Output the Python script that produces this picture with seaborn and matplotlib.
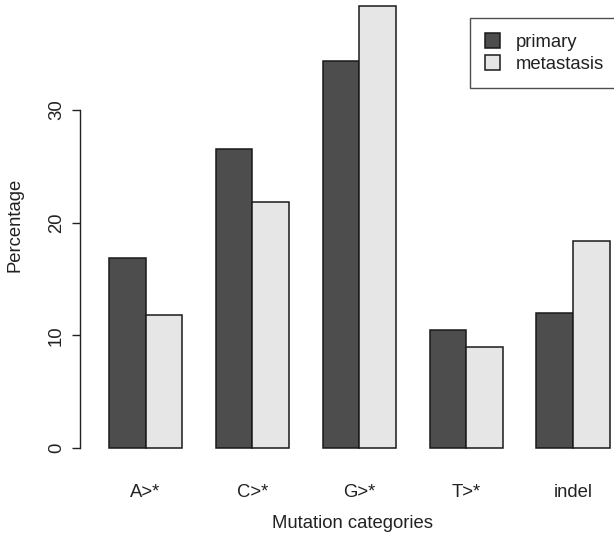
import matplotlib
matplotlib.use("Agg")
import matplotlib.pyplot as plt
import seaborn as sns
import pandas as pd
from matplotlib.patches import Patch

categories = ["A>*", "C>*", "G>*", "T>*", "indel"]
primary = [16.9, 26.5, 34.3, 10.5, 12.0]
metastasis = [11.8, 21.8, 39.2, 9.0, 18.4]
series = ["primary", "metastasis"]
colors = ["#4d4d4d", "#e6e6e6"]
yticks = [0, 10, 20, 30]

df = pd.DataFrame({
    "category": categories * 2,
    "pct": primary + metastasis,
    "type": [series[0]] * len(categories) + [series[1]] * len(categories),
})

sns.set_style("white")
plt.rcParams["font.family"] = ["Liberation Sans", "DejaVu Sans"]
FS = 13.3

W, H = 614, 542
fig = plt.figure(figsize=(W / 100, H / 100), dpi=100)
left_px, right_px, top_px, bottom_px = 80, 614, 0, 466
ax = fig.add_axes([left_px / W, 1 - bottom_px / H, (right_px - left_px) / W, (bottom_px - top_px) / H])

sns.barplot(data=df, x="category", y="pct", hue="type", hue_order=series,
            order=categories, palette=colors, saturation=1, width=0.685,
            edgecolor="#1a1a1a", linewidth=1.1, ax=ax, legend=False)

x0_px, period = 145.5, 106.9
ax.set_xlim((left_px - x0_px) / period, (right_px - x0_px) / period)
y0_px, unit = 448, 11.27
ax.set_ylim((y0_px - bottom_px) / unit, (y0_px - top_px) / unit)

for s in ["top", "right", "bottom"]:
    ax.spines[s].set_visible(False)
ax.spines["left"].set_bounds(0, 30)
ax.spines["left"].set_color("#222222")
ax.spines["left"].set_linewidth(1.0)

ax.set_yticks(yticks)
ax.set_yticklabels([str(t) for t in yticks], rotation=90, va="center", fontsize=FS, color="#222222")
ax.tick_params(axis="y", length=5.8, width=1.0, color="#222222", pad=5, left=True)
ax.tick_params(axis="x", length=0, pad=13, labelsize=FS, labelcolor="#222222")
ax.set_xlabel("")
ax.set_ylabel("")
ax.set_facecolor("none")

fig.text(15 / W, 1 - 225 / H, "Percentage", rotation=90, ha="center", va="center", fontsize=FS, color="#222222")
fig.text(352 / W, 1 - 524 / H, "Mutation categories", ha="center", va="center", fontsize=FS, color="#222222")

handles = [Patch(facecolor=c, edgecolor="#1a1a1a", linewidth=1.1) for c in colors]
leg = fig.legend(handles, series, loc="upper left", bbox_to_anchor=(470 / W, 1 - 18 / H),
                 frameon=True, fancybox=False, fontsize=FS, handlelength=0.85, handleheight=0.85,
                 handletextpad=0.85, borderpad=0.8, labelspacing=0.25, borderaxespad=0)
leg.get_frame().set_edgecolor("#222222")
leg.get_frame().set_linewidth(1.0)
for t in leg.get_texts():
    t.set_color("#222222")

fig.savefig("out.png", dpi=100)
